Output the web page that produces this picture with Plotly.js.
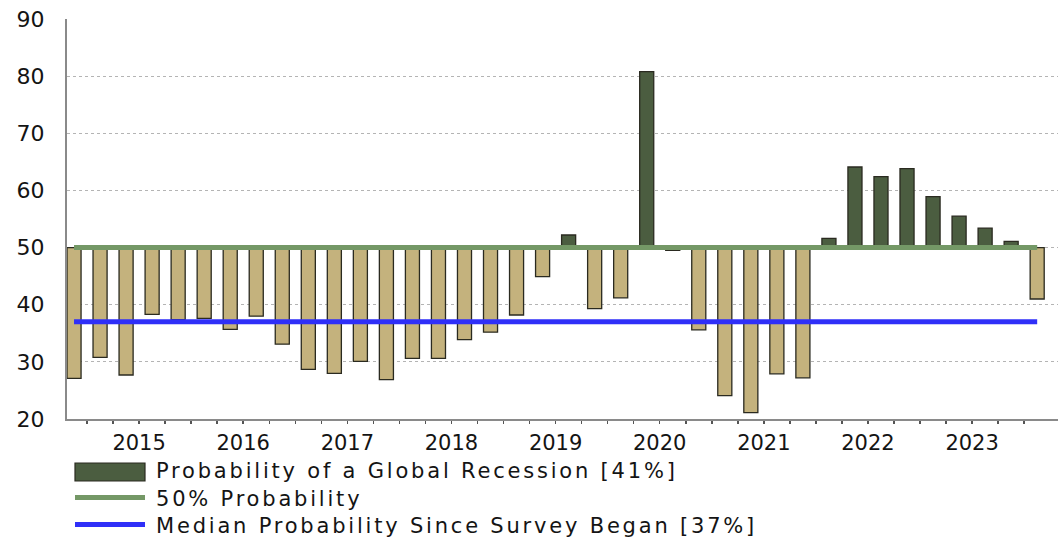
<!DOCTYPE html>
<html>
<head>
<meta charset="utf-8">
<script src="https://cdn.plot.ly/plotly-3.0.1.min.js"></script>
<style>
  html, body { margin: 0; padding: 0; background: #ffffff; }
  #chart { width: 1061px; height: 539px; }
  .annotation-text { letter-spacing: 2.8px; }
</style>
</head>
<body>
<div id="chart"></div>
<script>
// Quarterly survey readings, 2014 Q4 to 2024 Q1
const quarters = [
  '2014Q4',
  '2015Q1', '2015Q2', '2015Q3', '2015Q4',
  '2016Q1', '2016Q2', '2016Q3', '2016Q4',
  '2017Q1', '2017Q2', '2017Q3', '2017Q4',
  '2018Q1', '2018Q2', '2018Q3', '2018Q4',
  '2019Q1', '2019Q2', '2019Q3', '2019Q4',
  '2020Q1', '2020Q2', '2020Q3', '2020Q4',
  '2021Q1', '2021Q2', '2021Q3', '2021Q4',
  '2022Q1', '2022Q2', '2022Q3', '2022Q4',
  '2023Q1', '2023Q2', '2023Q3', '2023Q4',
  '2024Q1'
];

// Probability of a global recession (%)
const recessionProb = [
  27.1,
  30.8, 27.7, 38.3, 37.4,
  37.6, 35.7, 38.0, 33.1,
  28.7, 28.0, 30.1, 26.9,
  30.6, 30.6, 33.9, 35.2,
  38.2, 44.9, 52.2, 39.3,
  41.2, 80.8, 49.5, 35.6,
  24.1, 21.1, 27.9, 27.2,
  51.6, 64.1, 62.4, 63.8,
  58.9, 55.5, 53.4, 51.1,
  41.0
];

const yearLabels = ['2015', '2016', '2017', '2018', '2019', '2020', '2021', '2022', '2023'];
const yTicks = [20, 30, 40, 50, 60, 70, 80, 90];

const threshold = 50;      // 50% probability reference
const medianProb = 37;     // median since the survey began
const latestProb = recessionProb[recessionProb.length - 1];

const legendLabels = [
  'Probability of a Global Recession [' + Math.round(latestProb) + '%]',
  '50% Probability',
  'Median Probability Since Survey Began [' + medianProb + '%]'
];

const COLORS = {
  above: '#4b5d40',
  below: '#c4b27d',
  outline: '#2a2a20',
  threshold: '#749866',
  median: '#2f2ff8',
  grid: '#b4b4b4',
  axis: '#8a8a8a',
  text: '#141414'
};

// quarter positions on a numeric axis; the first quarter of each year starts at index 1
const xIdx = quarters.map((q, i) => i);
const firstYearStart = quarters.indexOf(yearLabels[0] + 'Q1');
const yearCenters = yearLabels.map((y, k) => firstYearStart + 4 * k + 1.5);
const yearBounds = yearLabels.map((y, k) => firstYearStart + 4 * k - 0.5)
  .concat([firstYearStart + 4 * yearLabels.length - 0.5]);
const quarterBounds = xIdx.slice(0, -1).map(i => i + 0.5);

const bars = {
  type: 'bar',
  x: xIdx,
  y: recessionProb.map(v => v - threshold),
  base: threshold,
  width: 0.54,
  marker: {
    color: recessionProb.map(v => (v >= threshold ? COLORS.above : COLORS.below)),
    line: { color: COLORS.outline, width: 1.3 }
  },
  hoverinfo: 'skip',
  showlegend: false
};

const thresholdLine = {
  type: 'scatter',
  mode: 'lines',
  x: xIdx,
  y: xIdx.map(() => threshold),
  xaxis: 'x2',
  line: { color: COLORS.threshold, width: 5 },
  hoverinfo: 'skip',
  showlegend: false
};

const medianLine = {
  type: 'scatter',
  mode: 'lines',
  x: xIdx,
  y: xIdx.map(() => medianProb),
  xaxis: 'x2',
  line: { color: COLORS.median, width: 5 },
  hoverinfo: 'skip',
  showlegend: false
};

const W = 1061, H = 539;
const M = { l: 67, r: 3, t: 19, b: 120 };
const plotW = W - M.l - M.r;
const plotH = H - M.t - M.b;
const px = x => (x - M.l) / plotW;
const py = y => (H - M.b - y) / plotH;

const xRange = [-0.27, xIdx.length - 1 + 0.8];
const font = 'DejaVu Sans, Verdana, sans-serif';

// hand-drawn legend: swatches and labels below the plot area
const swL = px(75), swR = px(145);
const shapes = [
  { type: 'rect', xref: 'paper', yref: 'paper', x0: swL, x1: swR, y0: py(481), y1: py(463),
    fillcolor: COLORS.above, line: { color: COLORS.outline, width: 1.2 } },
  { type: 'line', xref: 'paper', yref: 'paper', x0: swL, x1: swR, y0: py(497.5), y1: py(497.5),
    line: { color: COLORS.threshold, width: 5 } },
  { type: 'line', xref: 'paper', yref: 'paper', x0: swL, x1: swR, y0: py(524.5), y1: py(524.5),
    line: { color: COLORS.median, width: 5 } }
];
const rowY = [471, 498.5, 525.5];
const annotations = legendLabels.map((t, i) => ({
  xref: 'paper', yref: 'paper', x: px(154), y: py(rowY[i]),
  xanchor: 'left', yanchor: 'middle', showarrow: false,
  text: t, font: { family: font, size: 21, color: COLORS.text }
}));

const layout = {
  width: W, height: H,
  margin: M,
  paper_bgcolor: '#ffffff',
  plot_bgcolor: '#ffffff',
  showlegend: false,
  bargap: 0,
  xaxis: {
    range: xRange,
    tickmode: 'array',
    tickvals: yearBounds,
    ticktext: yearBounds.map(() => ''),
    showticklabels: false,
    ticks: 'outside', ticklen: 6, tickwidth: 1.5, tickcolor: '#555',
    minor: { tickmode: 'array', tickvals: quarterBounds, ticks: 'outside', ticklen: 3, tickwidth: 1.5, tickcolor: '#555', showgrid: false },
    showgrid: false, zeroline: false,
    showline: true, linecolor: COLORS.axis, linewidth: 2,
    fixedrange: true
  },
  xaxis2: {
    overlaying: 'x', anchor: 'y', side: 'bottom',
    range: xRange,
    tickmode: 'array',
    tickvals: yearCenters,
    ticktext: yearLabels,
    ticks: '', showgrid: false, zeroline: false, showline: false,
    ticklabelstandoff: 9,
    tickfont: { family: font, size: 21, color: COLORS.text },
    fixedrange: true
  },
  yaxis: {
    range: [20, 90],
    tickmode: 'array',
    tickvals: yTicks,
    ticks: '',
    ticklabelstandoff: 16,
    tickfont: { family: font, size: 22, color: COLORS.text },
    showgrid: true, gridcolor: COLORS.grid, griddash: 'dot', gridwidth: 1,
    zeroline: false,
    showline: true, linecolor: COLORS.axis, linewidth: 2,
    fixedrange: true
  },
  shapes: shapes,
  annotations: annotations
};

Plotly.newPlot('chart', [bars, thresholdLine, medianLine], layout, { displayModeBar: false, staticPlot: true });
</script>
</body>
</html>
